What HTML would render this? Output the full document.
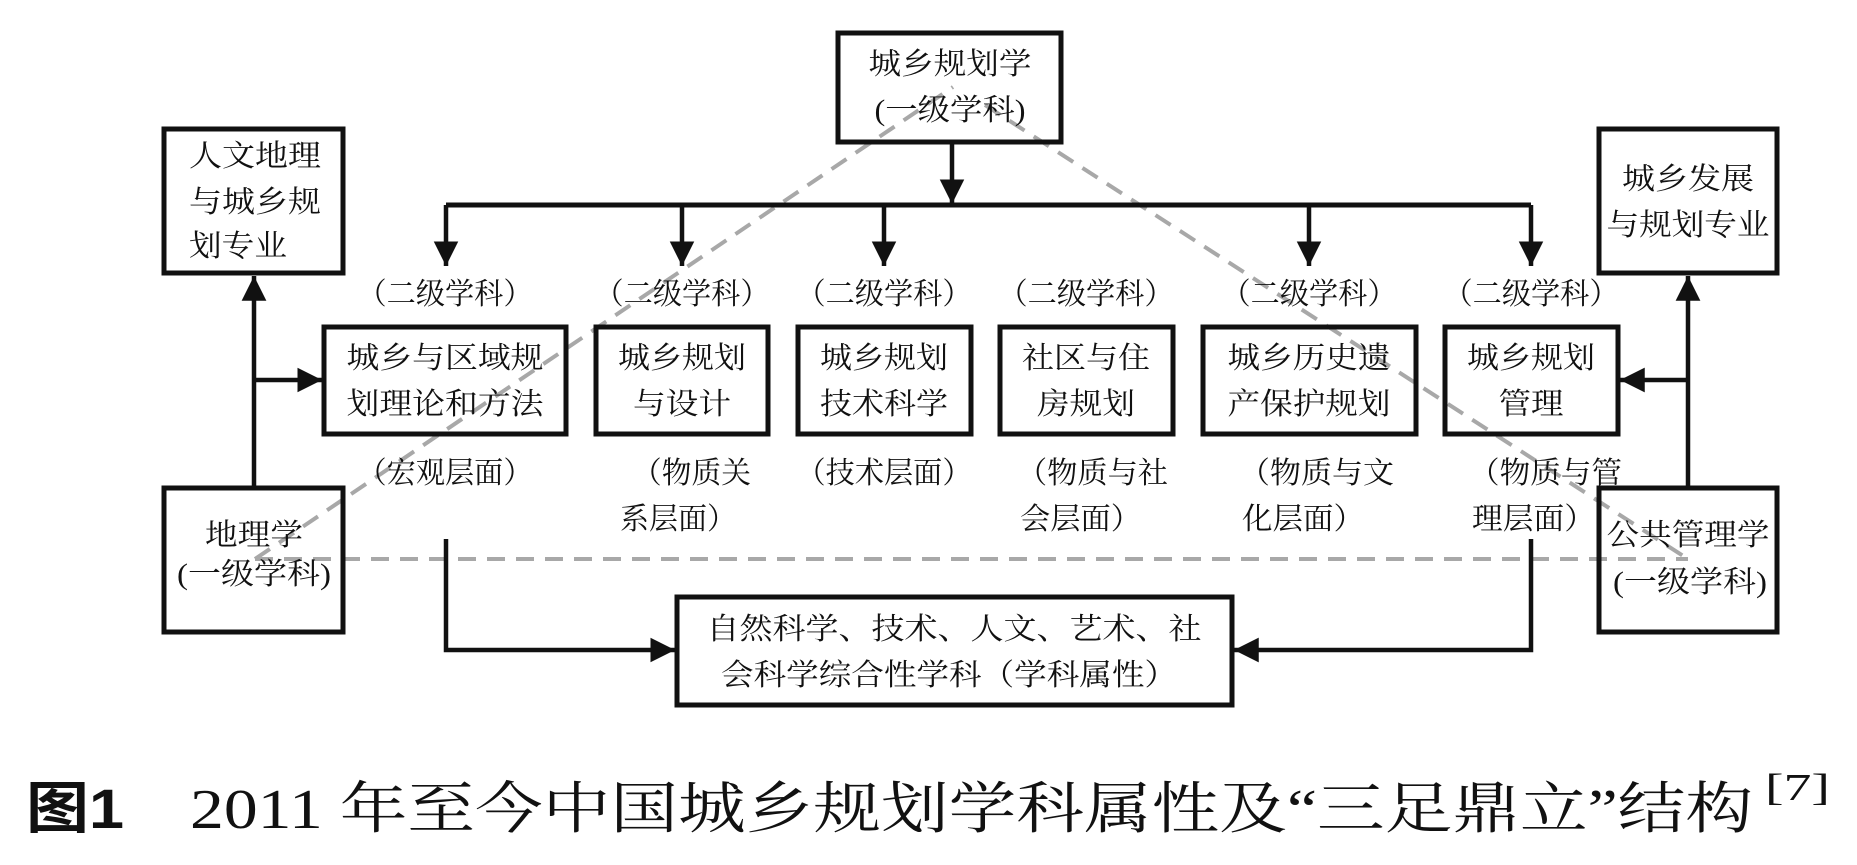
<!DOCTYPE html>
<html><head><meta charset="utf-8">
<style>
html,body{margin:0;padding:0;background:#fff;}
svg{display:block;}
.t{font-family:"Liberation Serif","Noto Serif CJK SC","Noto Sans CJK SC",serif;font-size:30px;fill:#111;}
.c{font-family:"Liberation Serif","Noto Serif CJK SC",serif;font-size:56px;fill:#111;}
</style></head>
<body>
<svg width="1857" height="865" viewBox="0 0 1857 865" xmlns="http://www.w3.org/2000/svg">
<rect width="1857" height="865" fill="#fff"/>
<defs>
<marker id="a" viewBox="0 0 10 10" refX="10" refY="5" markerWidth="5.5" markerHeight="5.5" orient="auto" markerUnits="strokeWidth">
<path d="M0,0 L10,5 L0,10 z" fill="#111"/>
</marker>
</defs>
<g stroke="#a8a8a8" stroke-width="4" stroke-dasharray="18,11" fill="none">
<line x1="255" y1="559" x2="953" y2="87"/>
<line x1="985" y1="105" x2="1688" y2="559"/>
<line x1="255" y1="559" x2="1688" y2="559"/>
</g>
<g stroke="#111" stroke-width="5" fill="none">
<rect x="838" y="33" width="223" height="109"/>
<rect x="164" y="129" width="179" height="144"/>
<rect x="164" y="488" width="179" height="144"/>
<rect x="1599" y="129" width="178" height="144"/>
<rect x="1599" y="488" width="178" height="144"/>
<rect x="324" y="327" width="242" height="107"/>
<rect x="596" y="327" width="172" height="107"/>
<rect x="798" y="327" width="173" height="107"/>
<rect x="1000" y="327" width="173" height="107"/>
<rect x="1203" y="327" width="213" height="107"/>
<rect x="1445" y="327" width="173" height="107"/>
<rect x="677" y="597" width="555" height="108"/>
</g>
<g stroke="#111" stroke-width="5" fill="none">
<polyline points="446,205 1531,205"/>
</g>
<g stroke="#111" stroke-width="4.5" fill="none">
<line x1="952" y1="142" x2="952" y2="204" marker-end="url(#a)"/>
<line x1="446" y1="205" x2="446" y2="266" marker-end="url(#a)"/>
<line x1="682" y1="205" x2="682" y2="266" marker-end="url(#a)"/>
<line x1="884" y1="205" x2="884" y2="266" marker-end="url(#a)"/>
<line x1="1309" y1="205" x2="1309" y2="266" marker-end="url(#a)"/>
<line x1="1531" y1="205" x2="1531" y2="266" marker-end="url(#a)"/>
<line x1="254" y1="488" x2="254" y2="276" marker-end="url(#a)"/>
<line x1="254" y1="380" x2="322" y2="380" marker-end="url(#a)"/>
<line x1="1688" y1="488" x2="1688" y2="276" marker-end="url(#a)"/>
<line x1="1688" y1="380" x2="1620" y2="380" marker-end="url(#a)"/>
<polyline points="446,539 446,650 675,650" marker-end="url(#a)"/>
<polyline points="1531,539 1531,650 1234,650" marker-end="url(#a)"/>
</g>
<g class="t" text-anchor="middle">
<text x="950" y="74" textLength="163" lengthAdjust="spacingAndGlyphs">城乡规划学</text>
<text x="950" y="120" textLength="151" lengthAdjust="spacingAndGlyphs">(一级学科)</text>
<text x="254" y="584" textLength="154" lengthAdjust="spacingAndGlyphs">(一级学科)</text>
<text x="254" y="545" textLength="98" lengthAdjust="spacingAndGlyphs">地理学</text>
<text x="1688" y="545" textLength="163" lengthAdjust="spacingAndGlyphs">公共管理学</text>
<text x="1690" y="592" textLength="154" lengthAdjust="spacingAndGlyphs">(一级学科)</text>
<text x="1688" y="189" textLength="132" lengthAdjust="spacingAndGlyphs">城乡发展</text>
<text x="1688" y="235" textLength="163" lengthAdjust="spacingAndGlyphs">与规划专业</text>

<text x="445" y="304" textLength="175" lengthAdjust="spacingAndGlyphs">（二级学科）</text>
<text x="682" y="304" textLength="175" lengthAdjust="spacingAndGlyphs">（二级学科）</text>
<text x="884" y="304" textLength="175" lengthAdjust="spacingAndGlyphs">（二级学科）</text>
<text x="1086" y="304" textLength="175" lengthAdjust="spacingAndGlyphs">（二级学科）</text>
<text x="1309" y="304" textLength="175" lengthAdjust="spacingAndGlyphs">（二级学科）</text>
<text x="1531" y="304" textLength="175" lengthAdjust="spacingAndGlyphs">（二级学科）</text>

<text x="445" y="368" textLength="197" lengthAdjust="spacingAndGlyphs">城乡与区域规</text>
<text x="445" y="414" textLength="197" lengthAdjust="spacingAndGlyphs">划理论和方法</text>
<text x="682" y="368" textLength="128" lengthAdjust="spacingAndGlyphs">城乡规划</text>
<text x="682" y="414" textLength="98" lengthAdjust="spacingAndGlyphs">与设计</text>
<text x="884" y="368" textLength="128" lengthAdjust="spacingAndGlyphs">城乡规划</text>
<text x="884" y="414" textLength="128" lengthAdjust="spacingAndGlyphs">技术科学</text>
<text x="1086" y="368" textLength="128" lengthAdjust="spacingAndGlyphs">社区与住</text>
<text x="1086" y="414" textLength="98" lengthAdjust="spacingAndGlyphs">房规划</text>
<text x="1309" y="368" textLength="163" lengthAdjust="spacingAndGlyphs">城乡历史遗</text>
<text x="1309" y="414" textLength="163" lengthAdjust="spacingAndGlyphs">产保护规划</text>
<text x="1531" y="368" textLength="128" lengthAdjust="spacingAndGlyphs">城乡规划</text>
<text x="1531" y="414" textLength="65" lengthAdjust="spacingAndGlyphs">管理</text>

<text x="445" y="483" textLength="175" lengthAdjust="spacingAndGlyphs">（宏观层面）</text>
<text x="884" y="483" textLength="175" lengthAdjust="spacingAndGlyphs">（技术层面）</text>

<text x="954" y="639" textLength="495" lengthAdjust="spacingAndGlyphs">自然科学、技术、人文、艺术、社</text>
<text x="949" y="685" textLength="456" lengthAdjust="spacingAndGlyphs">会科学综合性学科（学科属性）</text>
</g>
<g class="t" text-anchor="start">
<text x="189" y="166" textLength="132" lengthAdjust="spacingAndGlyphs">人文地理</text>
<text x="189" y="212" textLength="132" lengthAdjust="spacingAndGlyphs">与城乡规</text>
<text x="189" y="256" textLength="98" lengthAdjust="spacingAndGlyphs">划专业</text>

<text x="632" y="483" textLength="119" lengthAdjust="spacingAndGlyphs">（物质关</text>
<text x="620" y="529" textLength="116" lengthAdjust="spacingAndGlyphs">系层面）</text>
<text x="1017" y="483" textLength="151" lengthAdjust="spacingAndGlyphs">（物质与社</text>
<text x="1020" y="529" textLength="121" lengthAdjust="spacingAndGlyphs">会层面）</text>
<text x="1239" y="483" textLength="155" lengthAdjust="spacingAndGlyphs">（物质与文</text>
<text x="1242" y="529" textLength="122" lengthAdjust="spacingAndGlyphs">化层面）</text>
<text x="1469" y="483" textLength="153" lengthAdjust="spacingAndGlyphs">（物质与管</text>
<text x="1472" y="529" textLength="123" lengthAdjust="spacingAndGlyphs">理层面）</text>
</g>
<text x="26" y="828" textLength="98" lengthAdjust="spacingAndGlyphs" style="font-family:'Liberation Sans','Noto Sans CJK SC',sans-serif;font-size:56px;font-weight:bold;fill:#111">图1</text>
<text class="c" x="190" y="828" textLength="1563" lengthAdjust="spacingAndGlyphs">2011 年至今中国城乡规划学科属性及“三足鼎立”结构</text>
<text class="c" x="1765" y="800" textLength="65" lengthAdjust="spacingAndGlyphs" style="font-size:38px">[7]</text>
</svg>
</body></html>
